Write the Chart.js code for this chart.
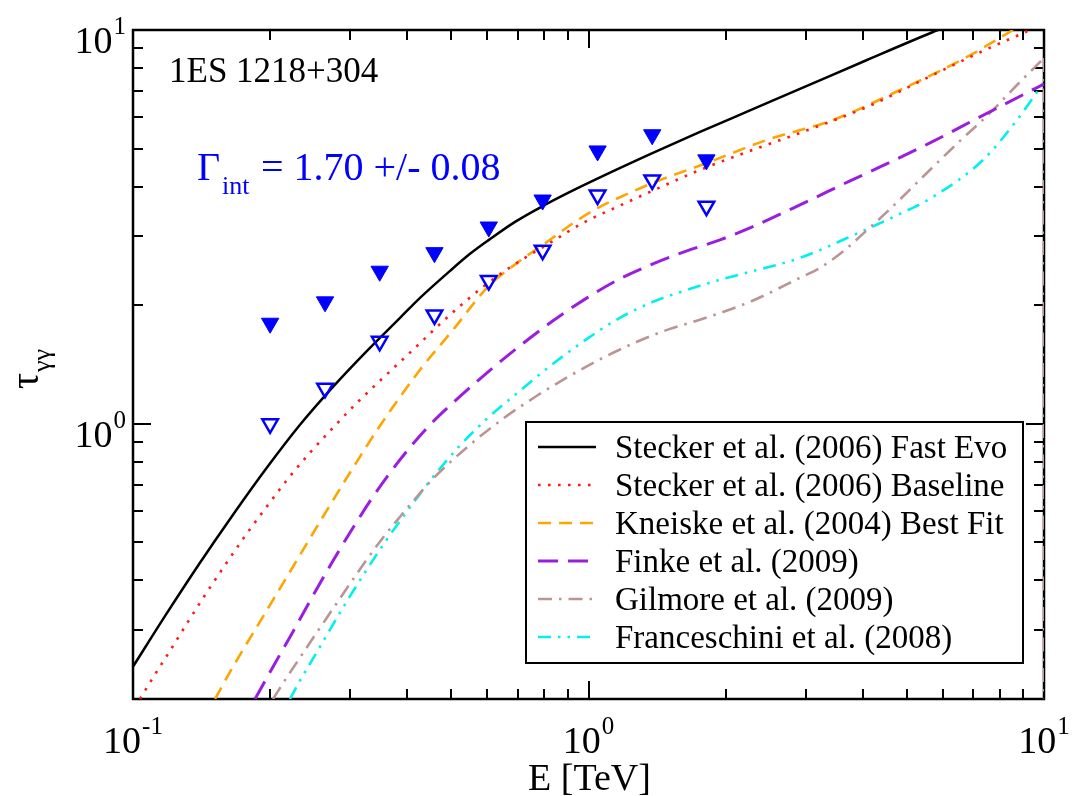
<!DOCTYPE html>
<html>
<head>
<meta charset="utf-8">
<script src="https://cdn.jsdelivr.net/npm/chart.js@4.4.1/dist/chart.umd.min.js"></script>
<style>
  html, body { margin: 0; padding: 0; background: #fff; }
</style>
</head>
<body>
<canvas id="tauChart" width="1079" height="796"></canvas>
<script>
// Data points: energies (TeV) and optical depth limits
const energyPoints = [0.200, 0.264, 0.348, 0.459, 0.604, 0.793, 1.047, 1.380, 1.815];
const tauUpper = [1.80, 2.04, 2.44, 2.72, 3.16, 3.70, 4.93, 5.42, 4.68];
const tauLower = [1.00, 1.23, 1.62, 1.89, 2.31, 2.76, 3.81, 4.16, 3.57];

// EBL model curves
const fastEvoE = [0.100, 0.1181, 0.1403, 0.1658, 0.1959, 0.2326, 0.2748, 0.3248, 0.3857, 0.4267, 0.4966, 0.5494, 0.6046, 0.6898, 0.7945, 0.9107, 1.060, 1.385, 1.757, 2.262, 2.912, 4.087, 5.705, 5.852];
const fastEvoTau = [0.2416, 0.3275, 0.4437, 0.5875, 0.7685, 0.9942, 1.241, 1.523, 1.858, 2.088, 2.445, 2.701, 2.931, 3.256, 3.575, 3.880, 4.224, 4.874, 5.509, 6.248, 7.084, 8.392, 9.884, 10.0];

const baselineE = [0.1036, 0.1106, 0.1206, 0.1321, 0.1446, 0.1600, 0.1771, 0.1958, 0.2189, 0.2446, 0.2749, 0.3087, 0.3485, 0.4118, 0.4966, 0.5867, 0.6967, 0.8233, 0.9726, 1.155, 1.365, 1.757, 2.262, 2.912, 4.087, 5.705, 7.345, 9.318];
const baselineTau = [0.200, 0.2266, 0.2653, 0.3144, 0.3703, 0.4412, 0.5228, 0.6121, 0.7251, 0.8442, 0.9769, 1.124, 1.286, 1.541, 1.891, 2.227, 2.563, 2.880, 3.237, 3.554, 3.880, 4.412, 4.931, 5.478, 6.376, 7.689, 8.846, 10.0];

const kneiskeE = [0.1514, 0.1658, 0.1900, 0.2211, 0.2573, 0.3041, 0.3485, 0.4267, 0.5042, 0.6015, 0.7073, 0.8109, 0.9341, 1.049, 1.203, 1.385, 1.820, 2.465, 3.442, 4.829, 6.774, 8.550];
const kneiskeTau = [0.200, 0.2416, 0.3144, 0.4209, 0.5640, 0.7732, 0.9884, 1.371, 1.732, 2.227, 2.593, 2.897, 3.256, 3.533, 3.813, 4.090, 4.597, 5.258, 5.909, 7.041, 8.541, 10.0];

const finkeE = [0.1853, 0.2030, 0.2245, 0.2484, 0.2749, 0.3041, 0.3364, 0.3722, 0.4118, 0.4556, 0.5042, 0.5985, 0.7073, 0.8357, 0.9925, 1.172, 1.385, 1.645, 1.944, 2.262, 2.912, 3.751, 4.365, 5.619, 7.235, 10.0];
const finkeTau = [0.200, 0.2416, 0.2965, 0.3660, 0.4491, 0.5445, 0.6527, 0.7685, 0.8896, 1.012, 1.131, 1.347, 1.578, 1.826, 2.088, 2.334, 2.547, 2.748, 2.931, 3.144, 3.596, 4.138, 4.490, 5.167, 6.015, 7.293];

const gilmoreE = [0.2030, 0.2167, 0.2326, 0.2522, 0.2749, 0.2995, 0.3248, 0.3538, 0.3857, 0.4182, 0.4556, 0.5494, 0.6492, 0.7705, 0.9107, 1.076, 1.278, 1.510, 1.757, 2.262, 2.912, 3.223, 3.658, 4.047, 4.522, 5.705, 6.539, 7.612, 8.725, 10.0];
const gilmoreTau = [0.200, 0.2253, 0.2547, 0.2931, 0.3392, 0.3926, 0.4491, 0.5136, 0.5807, 0.6489, 0.7251, 0.8845, 1.030, 1.178, 1.324, 1.471, 1.615, 1.742, 1.837, 2.040, 2.348, 2.489, 2.765, 3.071, 3.452, 4.490, 5.228, 6.157, 7.251, 8.490];
// the Gilmore table ends with a drop to zero at 10 TeV
const gilmoreDropE = [10.0, 10.0];
const gilmoreDropTau = [8.490, 0.01];

const franceschiniE = [0.2211, 0.2326, 0.2484, 0.2707, 0.2935, 0.3248, 0.3592, 0.3974, 0.4488, 0.5144, 0.5985, 0.7073, 0.8357, 0.9925, 1.172, 1.385, 1.645, 1.944, 2.262, 2.912, 4.005, 4.829, 5.705, 7.345, 8.725, 10.0];
const franceschiniTau = [0.200, 0.2227, 0.2532, 0.3000, 0.3513, 0.4234, 0.5047, 0.5942, 0.7167, 0.8640, 1.030, 1.213, 1.420, 1.643, 1.858, 2.040, 2.188, 2.321, 2.431, 2.638, 3.090, 3.412, 3.769, 4.677, 5.909, 7.379];

const xTicks = [0.1, 1, 10];
const xExponents = ['-1', '0', '1'];
const yTicks = [1, 10];
const yExponents = ['0', '1'];

const SERIF = '"Liberation Serif", "Times New Roman", serif';
const BLUE = '#0000ff';
const BROWN = '#bc9494';

const pairs = (xs, ys) => xs.map((x, i) => ({ x, y: ys[i] }));

const curve = (label, xs, ys, color, width, dash) => ({
  label,
  data: pairs(xs, ys),
  showLine: true,
  borderColor: color,
  borderWidth: width,
  borderDash: dash,
  pointRadius: 0,
  cubicInterpolationMode: 'monotone',
  fill: false
});

const models = [
  curve('Stecker et al. (2006) Fast Evo', fastEvoE, fastEvoTau, '#000000', 2.5, []),
  curve('Stecker et al. (2006) Baseline', baselineE, baselineTau, '#ff1a1a', 2.6, [2.6, 7.4]),
  curve('Kneiske et al. (2004) Best Fit', kneiskeE, kneiskeTau, '#ffa500', 2.6, [13, 8]),
  curve('Finke et al. (2009)', finkeE, finkeTau, '#9a1ee0', 3, [20, 10]),
  curve('Gilmore et al. (2009)', gilmoreE, gilmoreTau, BROWN, 2.6, [14, 7, 2.5, 7]),
  curve('Franceschini et al. (2008)', franceschiniE, franceschiniTau, '#00f0f0', 2.6, [13, 7, 2.5, 7, 2.5, 7])
];

const datasets = [
  {
    label: 'upper',
    data: pairs(energyPoints, tauUpper),
    pointStyle: 'triangle',
    rotation: 180,
    pointRadius: 10,
    backgroundColor: BLUE,
    borderColor: BLUE,
    borderWidth: 1
  },
  {
    label: 'lower',
    data: pairs(energyPoints, tauLower),
    pointStyle: 'triangle',
    rotation: 180,
    pointRadius: 9,
    backgroundColor: 'rgba(0,0,0,0)',
    borderColor: BLUE,
    borderWidth: 2.5
  },
  ...models,
  Object.assign(curve('', gilmoreDropE, gilmoreDropTau, BROWN, 2.6, [14, 7, 2.5, 7]), { cubicInterpolationMode: 'default', tension: 0 })
];

// frame with inward ticks on all four sides
const framePlugin = {
  id: 'frame',
  beforeDatasetsDraw(chart) {
    const { ctx, chartArea: a, scales: { x, y } } = chart;
    ctx.save();
    ctx.strokeStyle = '#000';
    ctx.lineWidth = 2;
    ctx.beginPath();
    for (let d = -1; d <= 1; d++) {
      for (let k = 1; k <= 9; k++) {
        const v = k * Math.pow(10, d);
        if (v < 0.1 || v > 10) continue;
        const px = Math.round(x.getPixelForValue(v));
        const len = k === 1 ? 18 : 10;
        ctx.moveTo(px, a.bottom); ctx.lineTo(px, a.bottom - len);
        ctx.moveTo(px, a.top); ctx.lineTo(px, a.top + len);
      }
    }
    for (let d = -1; d <= 1; d++) {
      for (let k = 1; k <= 9; k++) {
        const v = k * Math.pow(10, d);
        if (v < 0.2 - 1e-9 || v > 10 + 1e-9) continue;
        const py = Math.round(y.getPixelForValue(v));
        const len = k === 1 ? 18 : 10;
        ctx.moveTo(a.left, py); ctx.lineTo(a.left + len, py);
        ctx.moveTo(a.right, py); ctx.lineTo(a.right - len, py);
      }
    }
    ctx.stroke();
    ctx.lineWidth = 2.5;
    ctx.strokeRect(a.left, a.top, a.right - a.left, a.bottom - a.top);
    ctx.restore();
  }
};

function drawPower(ctx, exp, x, baseY, align) {
  ctx.font = '38px ' + SERIF;
  const wBase = ctx.measureText('10').width;
  ctx.font = '25px ' + SERIF;
  const wExp = ctx.measureText(exp).width;
  const total = wBase + wExp + 1;
  const left = align === 'center' ? x - total / 2 : x - total;
  ctx.textAlign = 'left';
  ctx.font = '38px ' + SERIF;
  ctx.fillText('10', left, baseY);
  ctx.font = '25px ' + SERIF;
  ctx.fillText(exp, left + wBase + 1, baseY - 19);
}

const textPlugin = {
  id: 'labels',
  afterDatasetsDraw(chart) {
    const { ctx, chartArea: a, scales: { x, y } } = chart;
    ctx.save();
    ctx.fillStyle = '#000';
    ctx.textBaseline = 'alphabetic';

    xTicks.forEach((v, i) => drawPower(ctx, xExponents[i], x.getPixelForValue(v), 753, 'center'));
    yTicks.forEach((v, i) => drawPower(ctx, yExponents[i], 126, y.getPixelForValue(v) + 23, 'right'));

    // axis titles
    ctx.font = '38px ' + SERIF;
    ctx.textAlign = 'center';
    ctx.fillText('E [TeV]', (a.left + a.right) / 2 + 1, 790);

    ctx.save();
    ctx.translate(38, 389);
    ctx.rotate(-Math.PI / 2);
    ctx.textAlign = 'left';
    ctx.font = '40px ' + SERIF;
    ctx.fillText('τ', 0, 0);
    const wTau = ctx.measureText('τ').width;
    ctx.font = '26px ' + SERIF;
    ctx.fillText('γγ', wTau + 1, 12);
    ctx.restore();

    // source name and fitted index
    ctx.textAlign = 'left';
    ctx.font = '35px ' + SERIF;
    ctx.fillText('1ES 1218+304', 169, 82);

    ctx.fillStyle = BLUE;
    ctx.font = '40px ' + SERIF;
    ctx.fillText('Γ', 197, 180);
    ctx.font = '26px ' + SERIF;
    ctx.fillText('int', 222, 194);
    ctx.font = '40px ' + SERIF;
    ctx.fillText('= 1.70 +/- 0.08', 261, 180);

    // legend box
    const box = { left: 526, top: 422, right: 1023, bottom: 663 };
    ctx.fillStyle = '#fff';
    ctx.fillRect(box.left, box.top, box.right - box.left, box.bottom - box.top);
    ctx.strokeStyle = '#000';
    ctx.lineWidth = 2;
    ctx.setLineDash([]);
    ctx.strokeRect(box.left, box.top, box.right - box.left, box.bottom - box.top);

    ctx.font = '33px ' + SERIF;
    models.forEach((ds, i) => {
      const rowY = 447 + i * 38;
      ctx.save();
      ctx.strokeStyle = ds.borderColor;
      ctx.lineWidth = ds.borderWidth;
      ctx.setLineDash(ds.borderDash);
      ctx.beginPath();
      ctx.moveTo(538, rowY);
      ctx.lineTo(596, rowY);
      ctx.stroke();
      ctx.restore();
      ctx.fillStyle = '#000';
      ctx.fillText(ds.label, 615, rowY + 11);
    });
    ctx.restore();
  }
};

const ctx = document.getElementById('tauChart');
const tauChart = new Chart(ctx, {
  type: 'scatter',
  data: { datasets },
  options: {
    responsive: false,
    animation: false,
    layout: { padding: { left: 133, right: 35, top: 30, bottom: 97 } },
    scales: {
      x: { type: 'logarithmic', min: 0.1, max: 10, display: false },
      y: { type: 'logarithmic', min: 0.2, max: 10, display: false }
    },
    plugins: {
      legend: { display: false },
      tooltip: { enabled: false }
    }
  },
  plugins: [framePlugin, textPlugin]
});
</script>
</body>
</html>
